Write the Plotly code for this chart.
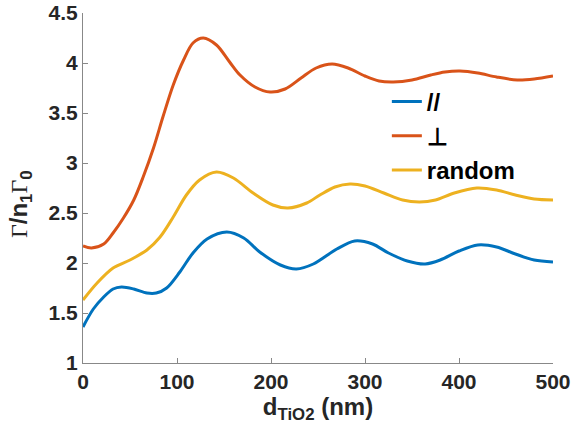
import plotly.graph_objects as go

# Data
d_perp = [0, 9, 22, 32, 43, 54, 64, 75, 85, 96, 107, 117, 128, 142, 156, 167, 183, 199, 215, 232, 248, 265, 282, 300, 315, 330, 350, 370, 385, 401, 420, 440, 462, 480, 500]
g_perp = [2.17, 2.15, 2.19, 2.30, 2.45, 2.63, 2.86, 3.15, 3.46, 3.78, 4.03, 4.20, 4.25, 4.18, 4.01, 3.88, 3.76, 3.71, 3.74, 3.85, 3.95, 3.99, 3.95, 3.87, 3.82, 3.81, 3.83, 3.88, 3.91, 3.92, 3.90, 3.86, 3.83, 3.84, 3.87]

d_rand = [0, 15, 32, 50, 68, 82, 96, 110, 124, 142, 160, 181, 202, 218, 238, 252, 268, 284, 300, 320, 340, 358, 375, 395, 419, 440, 460, 480, 500]
g_rand = [1.63, 1.80, 1.95, 2.03, 2.13, 2.26, 2.46, 2.68, 2.83, 2.91, 2.85, 2.70, 2.58, 2.55, 2.60, 2.68, 2.76, 2.79, 2.77, 2.70, 2.63, 2.61, 2.63, 2.70, 2.75, 2.73, 2.68, 2.64, 2.63]

d_par = [0, 11, 22, 32, 41, 54, 68, 78, 89, 103, 117, 132, 153, 171, 188, 210, 227, 245, 270, 289, 308, 325, 345, 364, 380, 400, 420, 440, 460, 480, 500]
g_par = [1.36, 1.54, 1.66, 1.74, 1.76, 1.74, 1.70, 1.70, 1.75, 1.91, 2.10, 2.24, 2.31, 2.25, 2.11, 1.98, 1.94, 1.99, 2.14, 2.22, 2.19, 2.10, 2.02, 1.99, 2.03, 2.12, 2.18, 2.16, 2.09, 2.03, 2.01]

x_ticks = [0, 100, 200, 300, 400, 500]
y_ticks = [1, 1.5, 2, 2.5, 3, 3.5, 4, 4.5]
y_tick_labels = ["1", "1.5", "2", "2.5", "3", "3.5", "4", "4.5"]

names = ["//", "⊥", "random"]
colors = ["#0072BD", "#D95319", "#EDB120"]

FONT = "Liberation Sans, Arial, Helvetica, sans-serif"

fig = go.Figure()
for xs, ys, nm, c in [(d_par, g_par, names[0], colors[0]),
                      (d_perp, g_perp, names[1], colors[1]),
                      (d_rand, g_rand, names[2], colors[2])]:
    fig.add_trace(go.Scatter(x=xs, y=ys, mode="lines", name=nm,
                             line=dict(color=c, width=3, shape="spline", smoothing=0.9)))

fig.update_layout(
    width=571, height=432,
    margin=dict(l=83, r=18, t=13, b=69),
    paper_bgcolor="white", plot_bgcolor="white",
    font=dict(family=FONT, size=20, color="#262626"),
    showlegend=True,
    legend=dict(x=0.6465, y=0.81, xanchor="left", yanchor="top",
                bgcolor="rgba(0,0,0,0)", borderwidth=0,
                font=dict(family=FONT, size=24, color="black", weight="bold"),
                tracegroupgap=0, itemwidth=30),
    annotations=[dict(
        text="<span style='font-family:Liberation Serif;font-weight:normal'>Γ</span>/n<sub>1</sub><span style='font-family:Liberation Serif;font-weight:normal'>Γ</span><sub>0</sub>",
        xref="paper", yref="paper", x=-0.134, y=0.454, xanchor="center", yanchor="middle",
        textangle=-90, showarrow=False,
        font=dict(family=FONT, size=24, color="#262626", weight="bold"))],
)
fig.update_xaxes(range=[0, 500], tickvals=x_ticks, ticks="inside", ticklen=5,
                 tickcolor="#888", linecolor="#888", linewidth=1, showline=True,
                 showgrid=False, zeroline=False, mirror=False, automargin=False,
                 ticklabeloverflow="allow",
                 tickfont=dict(family=FONT, size=21, color="#262626", weight="bold"),
                 title=dict(text="d<sub>TiO2</sub> (nm)", standoff=4,
                            font=dict(family=FONT, size=24, color="#262626", weight="bold")))
fig.update_yaxes(range=[1, 4.5], tickvals=y_ticks, ticktext=y_tick_labels, ticks="inside", ticklen=5,
                 tickcolor="#888", linecolor="#888", linewidth=1, showline=True,
                 showgrid=False, zeroline=False, mirror=False, automargin=False,
                 ticklabeloverflow="allow",
                 tickfont=dict(family=FONT, size=21, color="#262626", weight="bold"))

fig.write_html("out.html", config={"displayModeBar": False},
               post_script="document.body.style.margin='0';document.body.style.padding='0';")
